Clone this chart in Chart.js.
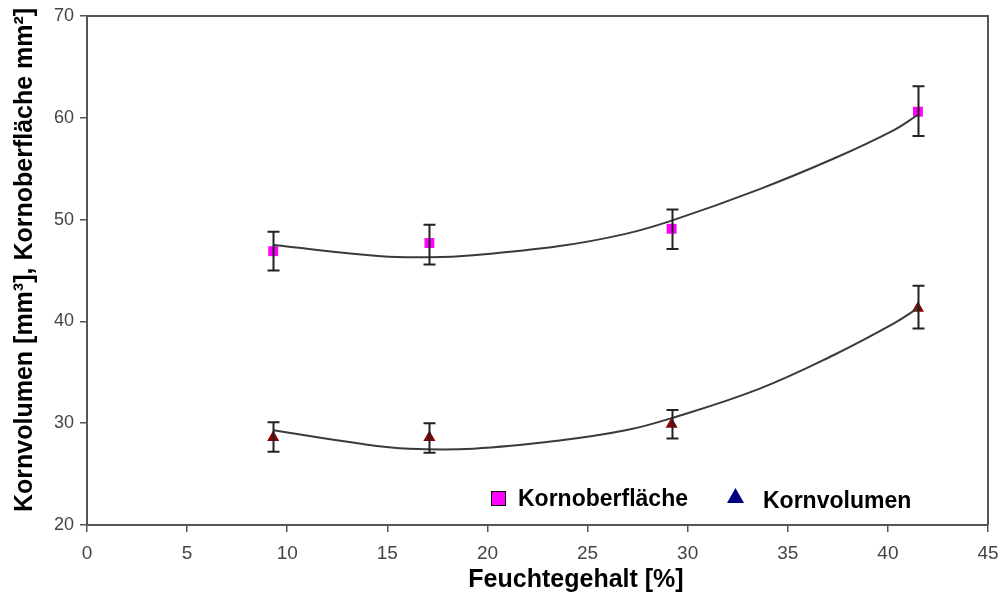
<!DOCTYPE html>
<html>
<head>
<meta charset="utf-8">
<script src="https://cdn.jsdelivr.net/npm/chart.js@4.4.1/dist/chart.umd.min.js"></script>
<style>
  html, body { margin: 0; padding: 0; background: #fff; }
  #chart { display: block; }
</style>
</head>
<body>
<canvas id="chart" width="1005" height="596"></canvas>
<script>
// Messwerte (Mittelwerte und Fehlerbalken)
const moisture = [9.3, 17.1, 29.2, 41.5];

const surface = [46.9, 47.7, 49.1, 60.6];
const surfaceLow = [45.0, 45.6, 47.1, 58.2];
const surfaceHigh = [48.8, 49.5, 51.0, 63.1];

const volume = [28.6, 28.6, 29.9, 41.3];
const volumeLow = [27.2, 27.1, 28.5, 39.3];
const volumeHigh = [30.1, 30.0, 31.3, 43.5];

// Trendlinien
const surfaceTrendX = [9.3, 14.7, 17.1, 19.3, 23.6, 26.9, 29.2, 33.6, 37.3, 40.3, 41.5];
const surfaceTrend = [47.5, 46.4, 46.3, 46.5, 47.4, 48.6, 49.9, 53.0, 56.0, 58.8, 60.3];
const volumeTrendX = [9.3, 13.6, 16.1, 19.3, 23.6, 26.9, 29.2, 33.6, 37.3, 40.3, 41.5];
const volumeTrend = [29.3, 28.0, 27.5, 27.5, 28.3, 29.3, 30.5, 33.4, 36.7, 39.8, 41.3];

const xTicks = [0, 5, 10, 15, 20, 25, 30, 35, 40, 45];
const yTicks = [20, 30, 40, 50, 60, 70];

const toPoints = (xs, ys) => xs.map((x, i) => ({ x: x, y: ys[i] }));

const errorBars = {
    id: 'errorBars',
    afterDatasetsDraw(chart) {
        const ctx = chart.ctx;
        const xs = chart.scales.x;
        const ys = chart.scales.y;
        const sets = [[surfaceLow, surfaceHigh], [volumeLow, volumeHigh]];
        ctx.save();
        ctx.strokeStyle = '#222';
        ctx.lineWidth = 2;
        sets.forEach(([lo, hi]) => {
            moisture.forEach((m, i) => {
                const px = Math.round(xs.getPixelForValue(m)) + 0.5;
                const top = ys.getPixelForValue(hi[i]);
                const bot = ys.getPixelForValue(lo[i]);
                ctx.beginPath();
                ctx.moveTo(px, top);
                ctx.lineTo(px, bot);
                ctx.moveTo(px - 6, top);
                ctx.lineTo(px + 6, top);
                ctx.moveTo(px - 6, bot);
                ctx.lineTo(px + 6, bot);
                ctx.stroke();
            });
        });
        ctx.restore();
    }
};

const decorations = {
    id: 'decorations',
    afterDraw(chart) {
        const ctx = chart.ctx;
        const area = chart.chartArea;
        ctx.save();

        // Rahmen oben und rechts
        ctx.strokeStyle = '#555';
        ctx.lineWidth = 2;
        ctx.beginPath();
        ctx.moveTo(area.left, area.top);
        ctx.lineTo(area.right, area.top);
        ctx.lineTo(area.right, area.bottom);
        ctx.stroke();

        // Achsentitel
        ctx.fillStyle = '#000';
        ctx.font = 'bold 25px "Liberation Sans", Arial, sans-serif';
        ctx.textBaseline = 'middle';
        ctx.textAlign = 'center';
        ctx.fillText('Feuchtegehalt [%]', 576, 580);

        ctx.save();
        ctx.translate(25, 512);
        ctx.rotate(-Math.PI / 2);
        ctx.textAlign = 'left';
        ctx.fillText('Kornvolumen [mm³], Kornoberfläche mm²]', 0, 0);
        ctx.restore();

        // Legende
        ctx.fillStyle = '#ff00ff';
        ctx.fillRect(491, 491, 15, 15);
        ctx.strokeStyle = '#000';
        ctx.lineWidth = 1;
        ctx.strokeRect(491.5, 491.5, 14, 14);
        ctx.fillStyle = '#000';
        ctx.textAlign = 'left';
        ctx.textBaseline = 'alphabetic';
        ctx.font = 'bold 23px "Liberation Sans", Arial, sans-serif';
        ctx.fillText('Kornoberfläche', 518, 506);

        ctx.fillStyle = '#000080';
        ctx.beginPath();
        ctx.moveTo(735.5, 488);
        ctx.lineTo(744, 503);
        ctx.lineTo(727, 503);
        ctx.closePath();
        ctx.fill();
        ctx.fillStyle = '#000';
        ctx.fillText('Kornvolumen', 763, 508);

        ctx.restore();
    }
};

new Chart(document.getElementById('chart').getContext('2d'), {
    type: 'scatter',
    data: {
        datasets: [
            {
                label: 'Trend Kornoberfläche',
                data: toPoints(surfaceTrendX, surfaceTrend),
                showLine: true,
                borderColor: '#3a3a3a',
                borderWidth: 2,
                pointRadius: 0,
                tension: 0.4
            },
            {
                label: 'Trend Kornvolumen',
                data: toPoints(volumeTrendX, volumeTrend),
                showLine: true,
                borderColor: '#3a3a3a',
                borderWidth: 2,
                pointRadius: 0,
                tension: 0.4
            },
            {
                label: 'Kornoberfläche',
                data: toPoints(moisture, surface),
                pointStyle: 'rect',
                pointRadius: 7,
                backgroundColor: '#ff00ff',
                borderColor: '#ff00ff',
                borderWidth: 0
            },
            {
                label: 'Kornvolumen',
                data: toPoints(moisture, volume),
                pointStyle: 'triangle',
                pointRadius: 7,
                backgroundColor: '#8b0000',
                borderColor: '#8b0000',
                borderWidth: 0
            }
        ]
    },
    options: {
        responsive: false,
        animation: false,
        layout: {
            padding: { left: 0, top: 16, right: 17, bottom: 0 }
        },
        plugins: {
            legend: { display: false },
            tooltip: { enabled: false }
        },
        scales: {
            x: {
                type: 'linear',
                min: 0,
                max: 45,
                afterBuildTicks: scale => { scale.ticks = xTicks.map(v => ({ value: v })); },
                afterFit: scale => {
                    scale.height = 71;
                    scale.paddingLeft = 0;
                    scale.paddingRight = 0;
                },
                grid: {
                    drawOnChartArea: false,
                    drawTicks: true,
                    tickLength: 7,
                    color: '#555',
                    lineWidth: 1.5
                },
                border: { color: '#555', width: 2 },
                ticks: {
                    color: '#444',
                    padding: 10,
                    font: { family: '"Liberation Sans", Arial, sans-serif', size: 19 }
                }
            },
            y: {
                min: 20,
                max: 70,
                afterBuildTicks: scale => { scale.ticks = yTicks.map(v => ({ value: v })); },
                afterFit: scale => {
                    scale.width = 87;
                    scale.paddingTop = 0;
                    scale.paddingBottom = 0;
                },
                grid: {
                    drawOnChartArea: false,
                    drawTicks: true,
                    tickLength: 7,
                    color: '#555',
                    lineWidth: 1.5
                },
                border: { color: '#555', width: 2 },
                ticks: {
                    color: '#444',
                    padding: 6,
                    font: { family: '"Liberation Sans", Arial, sans-serif', size: 18 }
                }
            }
        }
    },
    plugins: [errorBars, decorations]
});
</script>
</body>
</html>
